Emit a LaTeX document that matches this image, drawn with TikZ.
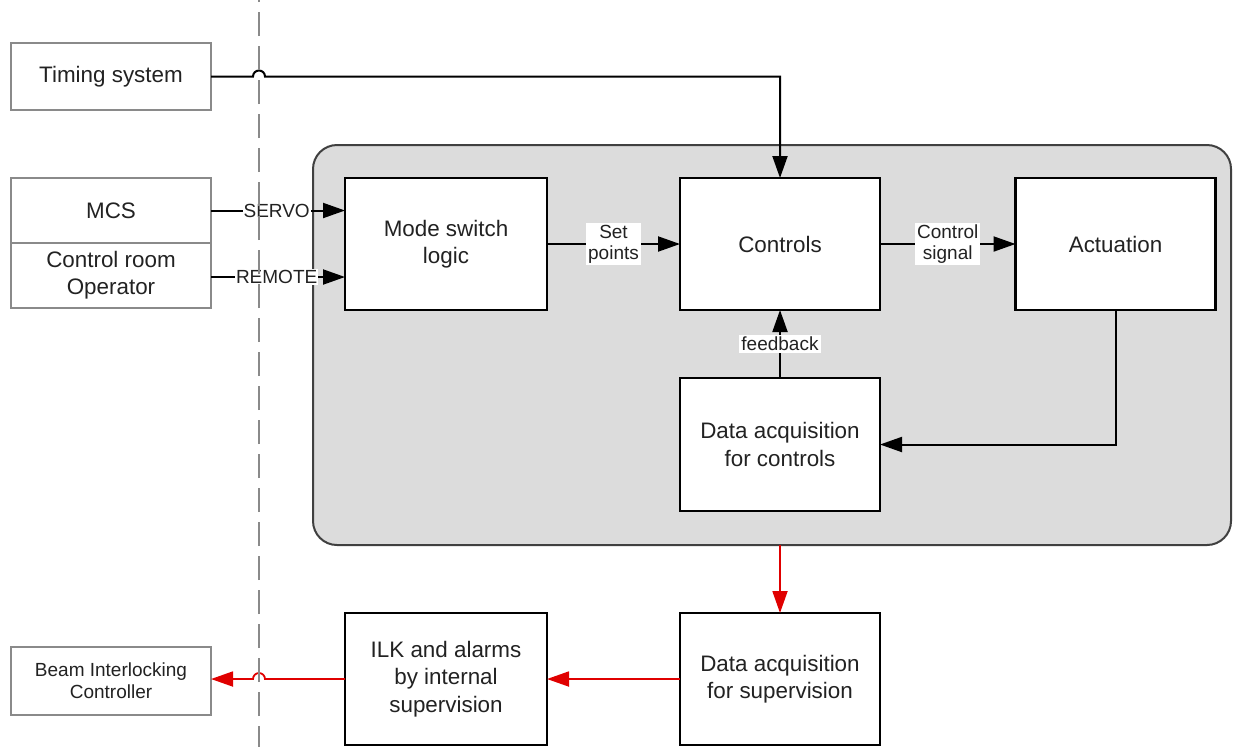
\documentclass[tikz,border=0pt]{standalone}
\usepackage{fontspec}
\setmainfont{Liberation Sans}
\usetikzlibrary{arrows.meta,calc}
\definecolor{txt}{HTML}{222222}
\definecolor{gborder}{HTML}{8A8A8A}
\definecolor{regionfill}{HTML}{DCDCDC}
\definecolor{sigred}{HTML}{E00000}
\begin{document}
\begin{tikzpicture}[x=0.5pt,y=-0.5pt,
  font=\fontsize{11.2pt}{13.6pt}\selectfont,
  extbox/.style={draw=gborder,line width=1pt,fill=white,minimum width=100pt,inner sep=0pt,outer sep=0pt,align=center,text=txt},
  blk/.style={draw=black,line width=1.25pt,fill=white,minimum width=100pt,minimum height=66pt,inner sep=0pt,outer sep=0pt,align=center,text=txt},
  conn/.style={line width=1pt,-{Triangle[length=11pt,width=7.5pt]}},
  redconn/.style={conn,draw=sigred,line width=0.9pt},
  lbl/.style={font=\fontsize{9.5pt}{10.5pt}\selectfont,align=center,inner sep=0.5pt,fill=white,text=txt},
  wlbl/.style={lbl,inner sep=1pt}
]
\useasboundingbox (0,0) rectangle (1234,746);

% region
\draw[fill=regionfill,draw=black!75,line width=1pt,rounded corners=12pt] (313,145) rectangle (1231,545);

% boundary coordinates
\coordinate (dtop) at (259,-4);
\coordinate (dbot) at (259,750);

% external boxes
\node[extbox,minimum height=33.5pt] (tim) at (111,76.5) {Timing system};
\node[extbox,minimum height=32.5pt] (mcs) at (111,210.5) {MCS};
\node[extbox,minimum height=32.5pt] (opr) at (111,275.5) {Control room\\Operator};
\node[extbox,minimum height=34pt,font=\fontsize{9.5pt}{11pt}\selectfont] (bic) at (111,680.5) {Beam Interlocking\\Controller};

% blocks
\node[blk,minimum width=101pt] (mode) at (446,244) {Mode switch\\logic};
\node[blk] (ctrl) at (780,244) {Controls};
\node[blk] (act) at (1115.5,244) {Actuation};
\node[blk,minimum height=66.5pt] (daqc) at (780,444.5) {Data acquisition\\for controls};
\node[blk,minimum height=66pt] (daqs) at (780,679) {Data acquisition\\for supervision};
\node[blk,minimum width=101pt,minimum height=66pt] (ilk) at (446,679) {ILK and alarms\\by internal\\supervision};

% timing -> controls with jump
\draw[conn] (tim.east) -- ([xshift=-3pt]dtop |- tim.east) arc[start angle=180,end angle=0,radius=3pt] -- (ctrl.north |- tim.east) -- (ctrl.north);

% mcs / operator -> mode
\draw[conn] (mcs.east) -- (mcs.east -| mode.west) node[lbl,pos=0.49] {SERVO};
\draw[conn] (opr.east |- 0,277) -- (mode.west |- 0,277) node[lbl,pos=0.49] {REMOTE};

% mode -> controls
\draw[conn] (mode.east) -- (ctrl.west) node[wlbl,pos=0.5] {Set\\points};
% controls -> actuation
\draw[conn] (ctrl.east) -- (act.west) node[wlbl,pos=0.5] {Control\\signal};
% feedback
\draw[conn] (daqc.north) -- (ctrl.south) node[wlbl,pos=0.5] {feedback};
% actuation -> daq controls
\draw[conn] (act.south) |- (daqc.east);

% red supervision path
\coordinate (regbot) at (780,545);
\draw[redconn] (regbot) -- (daqs.north);
\draw[redconn] (daqs.west) -- (ilk.east);
\draw[redconn] (ilk.west) -- ([xshift=3pt]dtop |- ilk.west) arc[start angle=0,end angle=180,radius=3pt] -- (bic.east |- ilk.west);

% dashed boundary (on top), drawn upward so it reaches the bottom edge
\draw[gborder,line width=1pt,dash pattern=on 12pt off 5pt] (dbot) -- (dtop);
\end{tikzpicture}
\end{document}
